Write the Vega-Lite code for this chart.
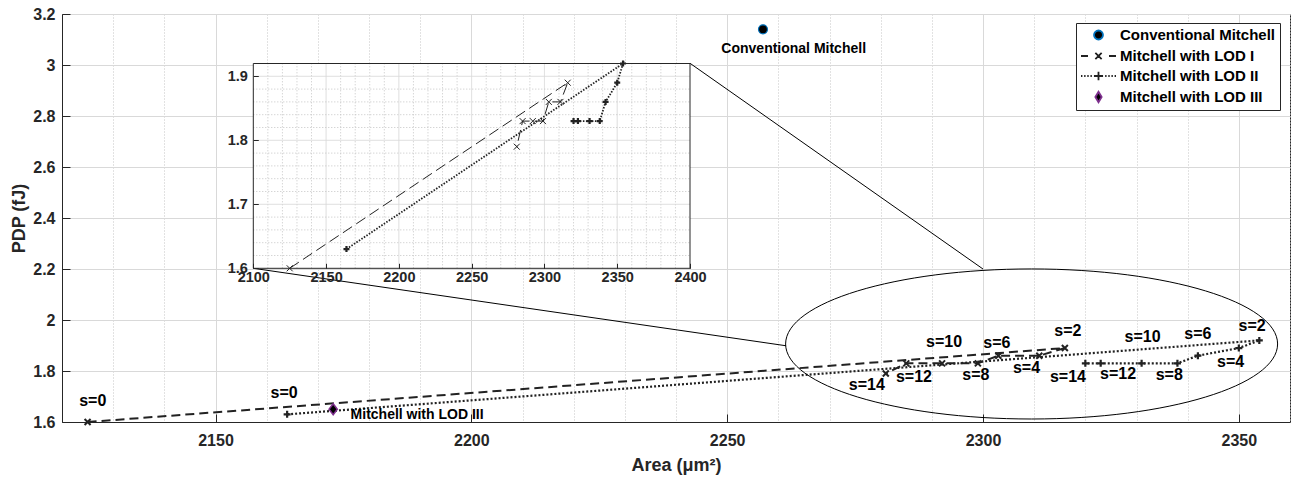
{
  "$schema": "https://vega.github.io/schema/vega-lite/v6.json",
  "width": 1228,
  "height": 408,
  "autosize": {"type": "none"},
  "padding": {"left": 62, "top": 14, "right": 1, "bottom": 57},
  "background": "white",
  "config": {
    "font": "Liberation Sans",
    "view": {"stroke": "#262626", "strokeWidth": 1},
    "axis": {"labelFont": "Liberation Sans", "labelFontWeight": "bold", "labelColor": "#262626", "titleFont": "Liberation Sans", "titleFontWeight": "bold", "titleColor": "#262626", "domainColor": "#262626", "tickColor": "#262626", "labelFlush": false, "labelOverlap": false},
    "text": {"font": "Liberation Sans", "fontWeight": "bold", "color": "#000"}
  },
  "datasets": {
    "pts": [
      {"series": "Conventional Mitchell", "s": 0, "area": 2257, "pdp": 3.14},
      {"series": "Mitchell with LOD I", "s": 0, "area": 2125, "pdp": 1.60},
      {"series": "Mitchell with LOD I", "s": 2, "area": 2316, "pdp": 1.89},
      {"series": "Mitchell with LOD I", "s": 4, "area": 2311, "pdp": 1.86},
      {"series": "Mitchell with LOD I", "s": 6, "area": 2303, "pdp": 1.86},
      {"series": "Mitchell with LOD I", "s": 8, "area": 2299, "pdp": 1.83},
      {"series": "Mitchell with LOD I", "s": 10, "area": 2292, "pdp": 1.83},
      {"series": "Mitchell with LOD I", "s": 12, "area": 2285, "pdp": 1.83},
      {"series": "Mitchell with LOD I", "s": 14, "area": 2281, "pdp": 1.79},
      {"series": "Mitchell with LOD II", "s": 0, "area": 2164, "pdp": 1.63},
      {"series": "Mitchell with LOD II", "s": 2, "area": 2354, "pdp": 1.92},
      {"series": "Mitchell with LOD II", "s": 4, "area": 2350, "pdp": 1.89},
      {"series": "Mitchell with LOD II", "s": 6, "area": 2342, "pdp": 1.86},
      {"series": "Mitchell with LOD II", "s": 8, "area": 2338, "pdp": 1.83},
      {"series": "Mitchell with LOD II", "s": 10, "area": 2331, "pdp": 1.83},
      {"series": "Mitchell with LOD II", "s": 12, "area": 2323, "pdp": 1.83},
      {"series": "Mitchell with LOD II", "s": 14, "area": 2320, "pdp": 1.83},
      {"series": "Mitchell with LOD III", "s": 0, "area": 2173, "pdp": 1.65}
    ],
    "slabels": [
      {"text": "s=0", "lx": 2126, "ly": 1.684},
      {"text": "s=14", "lx": 2277.3, "ly": 1.745},
      {"text": "s=12", "lx": 2286.5, "ly": 1.775},
      {"text": "s=10", "lx": 2292.4, "ly": 1.914},
      {"text": "s=8", "lx": 2298.6, "ly": 1.784},
      {"text": "s=6", "lx": 2302.7, "ly": 1.911},
      {"text": "s=4", "lx": 2308.5, "ly": 1.813},
      {"text": "s=2", "lx": 2316.6, "ly": 1.958},
      {"text": "s=0", "lx": 2163.4, "ly": 1.714},
      {"text": "s=14", "lx": 2316.6, "ly": 1.778},
      {"text": "s=12", "lx": 2326.4, "ly": 1.788},
      {"text": "s=10", "lx": 2331.2, "ly": 1.935},
      {"text": "s=8", "lx": 2336.4, "ly": 1.784},
      {"text": "s=6", "lx": 2342.0, "ly": 1.945},
      {"text": "s=4", "lx": 2348.4, "ly": 1.837},
      {"text": "s=2", "lx": 2352.6, "ly": 1.977}
    ],
    "insetGrid": [
      {"d": "x", "v": 2110, "m": 0}, {"d": "x", "v": 2120, "m": 0}, {"d": "x", "v": 2130, "m": 0}, {"d": "x", "v": 2140, "m": 0}, {"d": "x", "v": 2150, "m": 1},
      {"d": "x", "v": 2160, "m": 0}, {"d": "x", "v": 2170, "m": 0}, {"d": "x", "v": 2180, "m": 0}, {"d": "x", "v": 2190, "m": 0}, {"d": "x", "v": 2200, "m": 1},
      {"d": "x", "v": 2210, "m": 0}, {"d": "x", "v": 2220, "m": 0}, {"d": "x", "v": 2230, "m": 0}, {"d": "x", "v": 2240, "m": 0}, {"d": "x", "v": 2250, "m": 1},
      {"d": "x", "v": 2260, "m": 0}, {"d": "x", "v": 2270, "m": 0}, {"d": "x", "v": 2280, "m": 0}, {"d": "x", "v": 2290, "m": 0}, {"d": "x", "v": 2300, "m": 1},
      {"d": "x", "v": 2310, "m": 0}, {"d": "x", "v": 2320, "m": 0}, {"d": "x", "v": 2330, "m": 0}, {"d": "x", "v": 2340, "m": 0}, {"d": "x", "v": 2350, "m": 1},
      {"d": "x", "v": 2360, "m": 0}, {"d": "x", "v": 2370, "m": 0}, {"d": "x", "v": 2380, "m": 0}, {"d": "x", "v": 2390, "m": 0},
      {"d": "y", "v": 1.62, "m": 0}, {"d": "y", "v": 1.64, "m": 0}, {"d": "y", "v": 1.66, "m": 0}, {"d": "y", "v": 1.68, "m": 0}, {"d": "y", "v": 1.7, "m": 1},
      {"d": "y", "v": 1.72, "m": 0}, {"d": "y", "v": 1.74, "m": 0}, {"d": "y", "v": 1.76, "m": 0}, {"d": "y", "v": 1.78, "m": 0}, {"d": "y", "v": 1.8, "m": 1},
      {"d": "y", "v": 1.82, "m": 0}, {"d": "y", "v": 1.84, "m": 0}, {"d": "y", "v": 1.86, "m": 0}, {"d": "y", "v": 1.88, "m": 0}, {"d": "y", "v": 1.9, "m": 1}
    ]
  },
  "layer": [
    {
      "layer": [
        {
          "data": {"name": "pts"},
          "transform": [{"filter": "datum.series === 'Mitchell with LOD I'"}],
          "mark": {"type": "line", "color": "#222", "strokeWidth": 2, "strokeDash": [9, 5]},
          "encoding": {
            "x": {"field": "area", "type": "quantitative", "scale": {"domain": [2120, 2360], "nice": false, "zero": false},
              "axis": {"orient": "bottom", "title": "Area (μm²)", "titleFontSize": 18, "titlePadding": 8,
                "values": [2120, 2130, 2140, 2150, 2160, 2170, 2180, 2190, 2200, 2210, 2220, 2230, 2240, 2250, 2260, 2270, 2280, 2290, 2300, 2310, 2320, 2330, 2340, 2350, 2360],
                "format": "d", "labelExpr": "datum.value % 50 === 0 ? datum.label : ''", "labelFontSize": 16, "labelPadding": 18, "tickSize": -8,
                "tickOpacity": {"condition": {"test": "datum.value % 50 === 0", "value": 1}, "value": 0},
                "grid": true,
                "gridColor": {"condition": {"test": "datum.value % 50 === 0", "value": "#d9d9d9"}, "value": "#c4c4c4"},
                "gridDash": {"condition": {"test": "datum.value % 50 === 0", "value": []}, "value": [1, 2]}}},
            "y": {"field": "pdp", "type": "quantitative", "scale": {"domain": [1.6, 3.2], "nice": false, "zero": false},
              "axis": {"orient": "left", "title": "PDP (fJ)", "titleFontSize": 18, "titlePadding": 4,
                "values": [1.6, 1.65, 1.7, 1.75, 1.8, 1.85, 1.9, 1.95, 2.0, 2.05, 2.1, 2.15, 2.2, 2.25, 2.3, 2.35, 2.4, 2.45, 2.5, 2.55, 2.6, 2.65, 2.7, 2.75, 2.8, 2.85, 2.9, 2.95, 3.0, 3.05, 3.1, 3.15, 3.2],
                "labelExpr": "abs(datum.value*5 - round(datum.value*5)) < 0.000001 ? format(datum.value, '~g') : ''", "labelFontSize": 16, "labelPadding": 15, "tickSize": -8,
                "tickOpacity": {"condition": {"test": "abs(datum.value*5 - round(datum.value*5)) < 0.000001", "value": 1}, "value": 0},
                "grid": true,
                "gridColor": {"condition": {"test": "abs(datum.value*5 - round(datum.value*5)) < 0.000001", "value": "#d9d9d9"}, "value": "#c4c4c4"},
                "gridDash": {"condition": {"test": "abs(datum.value*5 - round(datum.value*5)) < 0.000001", "value": []}, "value": [1, 2]}}},
            "order": {"field": "s", "type": "quantitative"}
          }
        },
        {
          "data": {"name": "pts"},
          "transform": [{"filter": "datum.series === 'Mitchell with LOD II'"}],
          "mark": {"type": "line", "color": "#222", "strokeWidth": 2.2, "strokeDash": [2, 2]},
          "encoding": {
            "x": {"field": "area", "type": "quantitative"},
            "y": {"field": "pdp", "type": "quantitative"},
            "order": {"field": "s", "type": "quantitative"}
          }
        },
        {
          "data": {"name": "pts"},
          "transform": [{"filter": "datum.series === 'Mitchell with LOD I'"}],
          "mark": {"type": "point", "shape": "M -1 -1 L 1 1 M -1 1 L 1 -1", "size": 36, "filled": false, "color": "#222", "strokeWidth": 2, "opacity": 1},
          "encoding": {"x": {"field": "area", "type": "quantitative"}, "y": {"field": "pdp", "type": "quantitative"}}
        },
        {
          "data": {"name": "pts"},
          "transform": [{"filter": "datum.series === 'Mitchell with LOD II'"}],
          "mark": {"type": "point", "shape": "M -1 0 L 1 0 M 0 -1 L 0 1", "size": 49, "filled": false, "color": "#222", "strokeWidth": 2.2, "opacity": 1},
          "encoding": {"x": {"field": "area", "type": "quantitative"}, "y": {"field": "pdp", "type": "quantitative"}}
        },
        {
          "data": {"name": "pts"},
          "transform": [{"filter": "datum.series === 'Conventional Mitchell'"}],
          "mark": {"type": "point", "shape": "circle", "size": 81, "filled": true, "fill": "#000", "stroke": "#0072BD", "strokeWidth": 1.2, "opacity": 1},
          "encoding": {"x": {"field": "area", "type": "quantitative"}, "y": {"field": "pdp", "type": "quantitative"}}
        },
        {
          "data": {"name": "pts"},
          "transform": [{"filter": "datum.series === 'Mitchell with LOD III'"}],
          "mark": {"type": "point", "shape": "M 0 -1 L 0.75 0 L 0 1 L -0.75 0 Z", "size": 121, "filled": true, "fill": "#000", "stroke": "#7E2F8E", "strokeWidth": 1.5, "opacity": 1},
          "encoding": {"x": {"field": "area", "type": "quantitative"}, "y": {"field": "pdp", "type": "quantitative"}}
        },
        {
          "data": {"name": "slabels"},
          "mark": {"type": "text", "fontSize": 16, "align": "center", "baseline": "middle"},
          "encoding": {"x": {"field": "lx", "type": "quantitative"}, "y": {"field": "ly", "type": "quantitative"}, "text": {"field": "text"}}
        },
        {
          "data": {"values": [{"text": "Conventional Mitchell", "lx": 2263, "ly": 3.061}]},
          "mark": {"type": "text", "fontSize": 14, "align": "center", "baseline": "middle"},
          "encoding": {"x": {"field": "lx", "type": "quantitative"}, "y": {"field": "ly", "type": "quantitative"}, "text": {"field": "text"}}
        },
        {
          "data": {"values": [{"text": "Mitchell with LOD III", "lx": 2176.4, "ly": 1.629}]},
          "mark": {"type": "text", "fontSize": 14, "align": "left", "baseline": "middle"},
          "encoding": {"x": {"field": "lx", "type": "quantitative"}, "y": {"field": "ly", "type": "quantitative"}, "text": {"field": "text"}}
        },
        {
          "data": {"values": [{"cx": 2309.5, "cy": 1.906}]},
          "mark": {"type": "point", "shape": "M -1 0 C -1 -0.1684 -0.5523 -0.305 0 -0.305 C 0.5523 -0.305 1 -0.1684 1 0 C 1 0.1684 0.5523 0.305 0 0.305 C -0.5523 0.305 -1 0.1684 -1 0 Z", "size": 242064, "filled": false, "stroke": "#000", "strokeWidth": 1, "opacity": 1},
          "encoding": {"x": {"field": "cx", "type": "quantitative"}, "y": {"field": "cy", "type": "quantitative"}}
        },
        {
          "data": {"values": [
            {"x1": 2157.39, "y1": 2.2027, "x2": 2261.5, "y2": 1.899},
            {"x1": 2242.74, "y1": 3.0067, "x2": 2300.0, "y2": 2.2}
          ]},
          "mark": {"type": "rule", "color": "#000", "strokeWidth": 1},
          "encoding": {"x": {"field": "x1", "type": "quantitative"}, "y": {"field": "y1", "type": "quantitative"}, "x2": {"field": "x2"}, "y2": {"field": "y2"}}
        },
        {
          "data": {"name": "pts"},
          "mark": {"type": "point", "opacity": 0, "filled": false},
          "encoding": {
            "x": {"field": "area", "type": "quantitative"},
            "y": {"field": "pdp", "type": "quantitative"},
            "stroke": {"field": "series", "type": "nominal",
              "scale": {"domain": ["Conventional Mitchell", "Mitchell with LOD I", "Mitchell with LOD II", "Mitchell with LOD III"], "range": ["#0072BD", "#222222", "#222222", "#7E2F8E"]}},
            "fill": {"field": "series", "type": "nominal",
              "scale": {"domain": ["Conventional Mitchell", "Mitchell with LOD I", "Mitchell with LOD II", "Mitchell with LOD III"], "range": ["#000000", "transparent", "transparent", "#000000"]}},
            "shape": {"field": "series", "type": "nominal",
              "scale": {"domain": ["Conventional Mitchell", "Mitchell with LOD I", "Mitchell with LOD II", "Mitchell with LOD III"],
                "range": [
                  "M 0.86 0 C 0.86 -0.353 1.147 -0.64 1.5 -0.64 C 1.853 -0.64 2.14 -0.353 2.14 0 C 2.14 0.353 1.853 0.64 1.5 0.64 C 1.147 0.64 0.86 0.353 0.86 0 Z",
                  "M -1 0 L 0 0 M 3 0 L 4 0 M 1.05 -0.45 L 1.95 0.45 M 1.05 0.45 L 1.95 -0.45",
                  "M -1 0 L -0.8 0 M -0.55 0 L -0.35 0 M -0.1 0 L 0.1 0 M 0.35 0 L 0.55 0 M 2.45 0 L 2.65 0 M 2.9 0 L 3.1 0 M 3.35 0 L 3.55 0 M 3.8 0 L 4 0 M 0.85 0 L 2.15 0 M 1.5 -0.6 L 1.5 0.6",
                  "M 1.5 -0.75 L 1.95 0 L 1.5 0.75 L 1.05 0 Z"
                ]},
              "legend": {"title": null, "orient": "none", "legendX": 1014, "legendY": 9, "symbolSize": 196, "symbolStrokeWidth": 1.8, "symbolOpacity": 1,
                "labelFont": "Liberation Sans", "labelFontWeight": "bold", "labelFontSize": 15, "labelColor": "#000", "labelOffset": 24,
                "strokeColor": "#262626", "fillColor": "#fff", "padding": 4, "rowPadding": 4}
            }
          }
        }
      ]
    },
    {
      "layer": [
        {
          "data": {"values": [{}]},
          "mark": {"type": "rect", "fill": "#fff", "stroke": null},
          "encoding": {
            "x": {"datum": 2100, "type": "quantitative", "scale": {"domain": [2100, 2400], "range": [191.3, 628], "nice": false, "zero": false},
              "axis": {"orient": "bottom", "offset": -153.7, "title": null, "values": [2100, 2150, 2200, 2250, 2300, 2350, 2400], "format": "d",
                "labelFontSize": 14.5, "labelPadding": 7, "tickSize": -5, "domain": false, "grid": false, "zindex": 1}},
            "x2": {"datum": 2400},
            "y": {"datum": 1.6, "type": "quantitative", "scale": {"domain": [1.6, 1.92], "range": [254.3, 49.5], "nice": false, "zero": false},
              "axis": {"orient": "left", "offset": -191.3, "title": null, "values": [1.6, 1.7, 1.8, 1.9], "format": ".1f",
                "labelFontSize": 14.5, "labelPadding": 11, "tickSize": -5, "domain": false, "grid": false, "zindex": 1}},
            "y2": {"datum": 1.92}
          }
        },
        {
          "data": {"name": "insetGrid"},
          "transform": [{"filter": "datum.d === 'x'"}],
          "mark": {"type": "rule", "strokeWidth": 1},
          "encoding": {
            "x": {"field": "v", "type": "quantitative"},
            "y": {"datum": 1.6, "type": "quantitative"},
            "y2": {"datum": 1.92},
            "color": {"condition": {"test": "datum.m === 1", "value": "#d9d9d9"}, "value": "#c4c4c4"},
            "strokeDash": {"condition": {"test": "datum.m === 1", "value": [1, 0]}, "value": [1, 2]}
          }
        },
        {
          "data": {"name": "insetGrid"},
          "transform": [{"filter": "datum.d === 'y'"}],
          "mark": {"type": "rule", "strokeWidth": 1},
          "encoding": {
            "y": {"field": "v", "type": "quantitative"},
            "x": {"datum": 2100, "type": "quantitative"},
            "x2": {"datum": 2400},
            "color": {"condition": {"test": "datum.m === 1", "value": "#d9d9d9"}, "value": "#c4c4c4"},
            "strokeDash": {"condition": {"test": "datum.m === 1", "value": [1, 0]}, "value": [1, 2]}
          }
        },
        {
          "data": {"name": "pts"},
          "transform": [{"filter": "datum.series === 'Mitchell with LOD I'"}],
          "mark": {"type": "line", "color": "#222", "strokeWidth": 1, "strokeDash": [11, 5]},
          "encoding": {"x": {"field": "area", "type": "quantitative"}, "y": {"field": "pdp", "type": "quantitative"}, "order": {"field": "s", "type": "quantitative"}}
        },
        {
          "data": {"name": "pts"},
          "transform": [{"filter": "datum.series === 'Mitchell with LOD II'"}],
          "mark": {"type": "line", "color": "#222", "strokeWidth": 1.8, "strokeDash": [1.5, 1.5]},
          "encoding": {"x": {"field": "area", "type": "quantitative"}, "y": {"field": "pdp", "type": "quantitative"}, "order": {"field": "s", "type": "quantitative"}}
        },
        {
          "data": {"name": "pts"},
          "transform": [{"filter": "datum.series === 'Mitchell with LOD I'"}],
          "mark": {"type": "point", "shape": "M -1 -1 L 1 1 M -1 1 L 1 -1", "size": 36, "filled": false, "color": "#222", "strokeWidth": 1, "opacity": 1},
          "encoding": {"x": {"field": "area", "type": "quantitative"}, "y": {"field": "pdp", "type": "quantitative"}}
        },
        {
          "data": {"name": "pts"},
          "transform": [{"filter": "datum.series === 'Mitchell with LOD II'"}],
          "mark": {"type": "point", "shape": "M -1 0 L 1 0 M 0 -1 L 0 1", "size": 36, "filled": false, "color": "#222", "strokeWidth": 2.2, "opacity": 1},
          "encoding": {"x": {"field": "area", "type": "quantitative"}, "y": {"field": "pdp", "type": "quantitative"}}
        },
        {
          "data": {"values": [{}]},
          "mark": {"type": "rect", "fill": null, "fillOpacity": 0, "stroke": "#262626", "strokeWidth": 1},
          "encoding": {
            "x": {"datum": 2100, "type": "quantitative"},
            "x2": {"datum": 2400},
            "y": {"datum": 1.6, "type": "quantitative"},
            "y2": {"datum": 1.92}
          }
        }
      ]
    }
  ],
  "resolve": {"scale": {"x": "independent", "y": "independent"}, "axis": {"x": "independent", "y": "independent"}}
}
